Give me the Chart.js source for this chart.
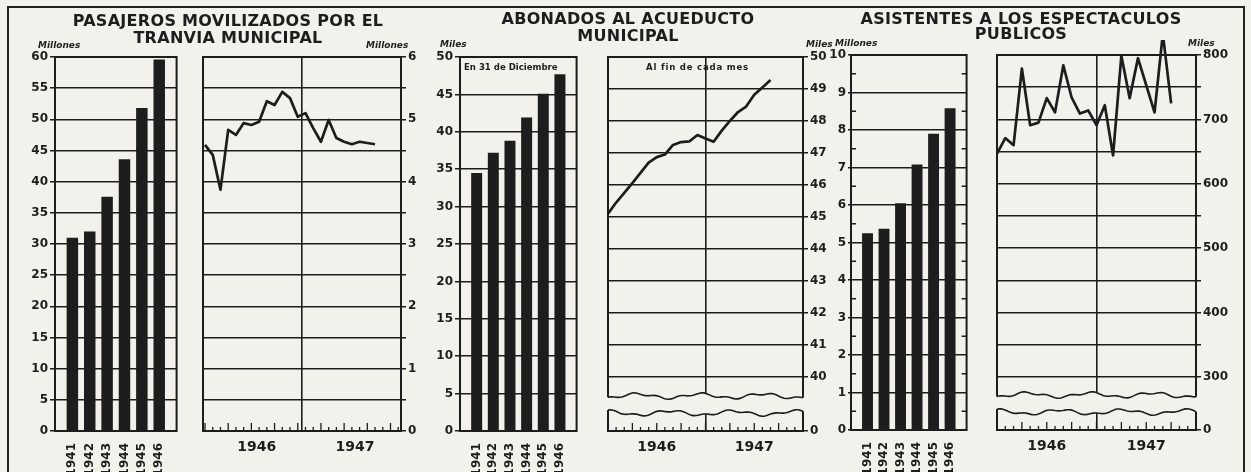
<!DOCTYPE html>
<html>
<head>
<meta charset="utf-8">
<script src="https://cdn.jsdelivr.net/npm/chart.js@4.4.0/dist/chart.umd.min.js"></script>
<style>
body { margin: 0; width: 1251px; height: 472px; overflow: hidden; position: relative;
       background: #f2f1ec; color: #1d1d1d; font-family: "DejaVu Sans", sans-serif; }
.frame { position: absolute; left: 7px; top: 6px; width: 1234px; height: 500px;
         border: 2px solid #222; border-bottom: none; }
.title { position: absolute; width: 400px; text-align: center; font-weight: bold;
         font-size: 16px; line-height: 17px; letter-spacing: 0.3px; z-index: 2; }
.unit { position: absolute; font-style: italic; font-weight: bold; font-size: 9px; z-index: 2; }
.note { position: absolute; font-family: "DejaVu Sans Condensed", "DejaVu Sans", sans-serif;
        font-weight: bold; font-size: 9.5px; z-index: 2; }
.plot { position: absolute; z-index: 1; }
</style>
</head>
<body>
<div class="frame"></div>

<div class="title" style="left:28px;top:12px;">PASAJEROS MOVILIZADOS POR EL<br>TRANVIA MUNICIPAL</div>
<div class="title" style="left:428px;top:10px;">ABONADOS AL ACUEDUCTO<br>MUNICIPAL</div>
<div class="title" style="left:821px;top:11px;line-height:15px;">ASISTENTES A LOS ESPECTACULOS<br>PUBLICOS</div>

<div class="unit" style="left:38px;top:40px;">Millones</div>
<div class="unit" style="left:366px;top:40px;">Millones</div>
<div class="unit" style="left:440px;top:39px;">Miles</div>
<div class="unit" style="left:806px;top:39px;">Miles</div>
<div class="unit" style="left:835px;top:38px;">Millones</div>
<div class="unit" style="left:1188px;top:38px;">Miles</div>

<div class="note" style="left:464px;top:61px;">En 31 de Diciembre</div>
<div class="note" style="left:646px;top:61px;letter-spacing:0.8px;">Al fin de cada mes</div>

<script>
/* ---- Values ---- */
var years = ['1941', '1942', '1943', '1944', '1945', '1946'];
var yearLabels = ['1946', '1947'];

/* Pasajeros movilizados por el tranvia municipal (millones) */
var tranviaAnual = [31.0, 32.0, 37.6, 43.6, 51.8, 59.6];
var tranviaMensual = [4.59, 4.43, 3.87, 4.83, 4.75, 4.94, 4.91, 4.96, 5.29, 5.23, 5.44, 5.34,
                      5.04, 5.10, 4.86, 4.64, 4.99, 4.70, 4.64, 4.60, 4.64, 4.62, 4.60];

/* Abonados al acueducto municipal (miles) */
var acueductoAnual = [34.5, 37.2, 38.8, 41.9, 45.1, 47.7];
var acueductoMensual = [45.10, 45.45, 45.75, 46.06, 46.38, 46.70, 46.87, 46.95, 47.25, 47.34, 47.36,
                        47.56, 47.45, 47.35, 47.70, 48.00, 48.28, 48.45, 48.82, 49.05, 49.28];

/* Asistentes a los espectaculos publicos (millones / miles) */
var espectaculosAnual = [5.25, 5.37, 6.05, 7.08, 7.90, 8.58];
var espectaculosMensual = [647, 671, 660, 779, 691, 695, 733, 711, 784, 734, 709, 714,
                           691, 722, 644, 799, 733, 795, 753, 711, 833, 725];

var INK = '#1d1d1d';
var PAPER = '#f2f1ec';

function tickFont(size) {
    return { family: 'DejaVu Sans', size: size, weight: 'bold' };
}

/* wavy line used for the broken axis */
function waveY(x, base, seed) {
    return base + 2.2 * Math.sin(x * 0.1 + seed) + 1.1 * Math.sin(x * 0.27 + seed * 2);
}

/* frame, inner ticks, month ticks and axis break */
var decorPlugin = {
    id: 'decor',
    afterDatasetsDraw: function (chart, args, opts) {
        var c = chart.ctx, a = chart.chartArea;
        c.save();
        c.strokeStyle = INK;
        c.lineWidth = 2;
        c.strokeRect(a.left, a.top, a.right - a.left, a.bottom - a.top);

        if (opts.minor) {
            var ys = chart.scales.y;
            c.lineWidth = 1.4;
            for (var v = ys.min + opts.minor; v < ys.max; v += opts.minor * 2) {
                var p = ys.getPixelForValue(v);
                c.beginPath();
                c.moveTo(a.left, p); c.lineTo(a.left + 5, p);
                c.moveTo(a.right, p); c.lineTo(a.right - 5, p);
                c.stroke();
            }
        }

        if (opts.months) {
            var xs = chart.scales.x;
            c.lineWidth = 1.3;
            for (var m = Math.ceil(xs.min); m <= Math.floor(xs.max); m++) {
                var px = xs.getPixelForValue(m);
                var len = (m % 3 === 0) ? 8 : 4;
                c.beginPath();
                c.moveTo(px, a.bottom); c.lineTo(px, a.bottom - len);
                c.stroke();
            }
        }

        if (opts.waves) {
            var top = a.bottom - 35, low = a.bottom - 18, x;
            c.fillStyle = PAPER;
            c.beginPath();
            c.moveTo(a.left - 3, waveY(a.left, top, 1));
            for (x = a.left; x <= a.right; x += 2) c.lineTo(x, waveY(x, top, 1));
            c.lineTo(a.right + 3, waveY(a.right, top, 1));
            c.lineTo(a.right + 3, waveY(a.right, low, 4));
            for (x = a.right; x >= a.left; x -= 2) c.lineTo(x, waveY(x, low, 4));
            c.lineTo(a.left - 3, waveY(a.left, low, 4));
            c.closePath();
            c.fill();
            c.lineWidth = 1.6;
            [[top, 1], [low, 4]].forEach(function (w) {
                c.beginPath();
                for (x = a.left; x <= a.right; x += 2) {
                    if (x === a.left) c.moveTo(x, waveY(x, w[0], w[1]));
                    else c.lineTo(x, waveY(x, w[0], w[1]));
                }
                c.lineTo(a.right, waveY(a.right, w[0], w[1]));
                c.stroke();
            });
        }
        c.restore();
    }
};

function makeCanvas(left, top, width, height) {
    var canvas = document.createElement('canvas');
    canvas.className = 'plot';
    canvas.width = width;
    canvas.height = height;
    canvas.style.left = left + 'px';
    canvas.style.top = top + 'px';
    document.body.appendChild(canvas);
    return canvas.getContext('2d');
}

/* Yearly bars, one empty slot on each side like the original */
function drawBarChart(ctx, values, cfg) {
    var chartData = {
        type: 'bar',
        data: {
            labels: [''].concat(years, ['']),
            datasets: [{
                data: [null].concat(values, [null]),
                backgroundColor: INK,
                barPercentage: 0.66,
                categoryPercentage: 1
            }]
        },
        options: {
            responsive: false,
            animation: false,
            layout: { padding: cfg.padding },
            plugins: { legend: { display: false }, tooltip: { enabled: false }, decor: { minor: cfg.minor } },
            scales: {
                x: {
                    offset: false,
                    grid: { display: false },
                    border: { display: false },
                    ticks: { autoSkip: false, minRotation: 90, maxRotation: 90, color: INK, font: tickFont(12), padding: 4 },
                    afterFit: function (s) { s.height = cfg.xHeight; }
                },
                y: {
                    min: 0, max: cfg.max,
                    ticks: { stepSize: cfg.step, autoSkip: false, color: INK, font: tickFont(12), padding: 2 },
                    grid: { color: INK, lineWidth: 1.5, tickLength: cfg.tickLength },
                    border: { display: false },
                    afterFit: function (s) { s.width = cfg.yWidth; }
                }
            }
        },
        plugins: [decorPlugin]
    };
    new Chart(ctx, chartData);
}

/* Monthly line, 1946-1947 */
function drawLineChart(ctx, values, cfg) {
    var points = values.map(function (v, i) { return { x: i, y: v }; });
    var chartData = {
        type: 'line',
        data: {
            datasets: [{
                data: points,
                borderColor: INK,
                borderWidth: 2.7,
                pointRadius: 0,
                tension: 0,
                clip: false,
                borderJoinStyle: 'round'
            }]
        },
        options: {
            responsive: false,
            animation: false,
            layout: { padding: cfg.padding },
            plugins: { legend: { display: false }, tooltip: { enabled: false }, decor: { months: true, waves: cfg.waves } },
            scales: {
                x: {
                    type: 'linear', min: cfg.xMin, max: cfg.xMax,
                    afterBuildTicks: function (s) {
                        s.ticks = [{ value: cfg.yearPos[0] }, { value: cfg.divider }, { value: cfg.yearPos[1] }];
                    },
                    ticks: {
                        autoSkip: false, maxRotation: 0, color: INK, font: tickFont(14), padding: 8,
                        callback: function (v, i) { return i === 0 ? yearLabels[0] : (i === 2 ? yearLabels[1] : ''); }
                    },
                    grid: {
                        drawTicks: false, lineWidth: 1.6,
                        color: function (c) { return c.tick && c.tick.value === cfg.divider ? INK : 'rgba(0,0,0,0)'; }
                    },
                    border: { display: false },
                    afterFit: function (s) { s.height = cfg.xHeight; }
                },
                y: {
                    position: 'right', min: cfg.yMin, max: cfg.yMax,
                    afterBuildTicks: function (s) {
                        s.ticks = cfg.yTicks.map(function (v) { return { value: v }; });
                    },
                    ticks: {
                        autoSkip: false, color: INK, font: tickFont(12), padding: 2,
                        callback: function (v) {
                            if (v === cfg.yMin) return '0';
                            return (Math.abs(v / cfg.labelStep - Math.round(v / cfg.labelStep)) < 1e-6) ? v : '';
                        }
                    },
                    grid: { color: INK, lineWidth: 1.5, tickLength: 5 },
                    border: { display: false },
                    afterFit: function (s) { s.width = cfg.yWidth; }
                }
            }
        },
        plugins: [decorPlugin]
    };
    new Chart(ctx, chartData);
}

function tickList(start, end, step, first) {
    var list = first != null ? [first] : [];
    for (var v = start; v <= end + 1e-9; v += step) list.push(Math.round(v * 100) / 100);
    return list;
}

/* Panel 1: tranvia */
drawBarChart(makeCanvas(15, 40, 180, 432), tranviaAnual, {
    max: 60, step: 5, yWidth: 40, xHeight: 41, tickLength: 5,
    padding: { top: 17, right: 12, left: 0, bottom: 0 }
});
drawLineChart(makeCanvas(195, 40, 235, 432), tranviaMensual, {
    xMin: -0.26, xMax: 25.36, divider: 12.55, yearPos: [6.7, 19.4],
    yMin: 0, yMax: 6, yTicks: tickList(0, 6, 0.5), labelStep: 1,
    yWidth: 29, xHeight: 41, waves: false,
    padding: { top: 17, left: 8, right: 0, bottom: 0 }
});

/* Panel 2: acueducto */
drawBarChart(makeCanvas(420, 40, 175, 432), acueductoAnual, {
    max: 50, step: 5, yWidth: 40, xHeight: 41, tickLength: 5,
    padding: { top: 17, right: 8, left: 0, bottom: 0 }
});
drawLineChart(makeCanvas(600, 40, 235, 432), acueductoMensual, {
    xMin: 0, xMax: 24, divider: 12, yearPos: [6, 18],
    yMin: 38.31, yMax: 50, yTicks: tickList(40, 50, 1, 38.31), labelStep: 1,
    yWidth: 32, xHeight: 41, waves: true,
    padding: { top: 17, left: 8, right: 0, bottom: 0 }
});

/* Panel 3: espectaculos */
drawBarChart(makeCanvas(815, 40, 170, 432), espectaculosAnual, {
    max: 10, step: 1, yWidth: 36, xHeight: 42, tickLength: 3, minor: 0.5,
    padding: { top: 15, right: 8, left: 0, bottom: 0 }
});
drawLineChart(makeCanvas(990, 40, 250, 432), espectaculosMensual, {
    xMin: 0, xMax: 24, divider: 12, yearPos: [6, 18],
    yMin: 217.7, yMax: 800, yTicks: tickList(300, 800, 50, 217.7), labelStep: 100,
    yWidth: 44, xHeight: 42, waves: true,
    padding: { top: 15, left: 7, right: 0, bottom: 0 }
});
</script>
</body>
</html>
